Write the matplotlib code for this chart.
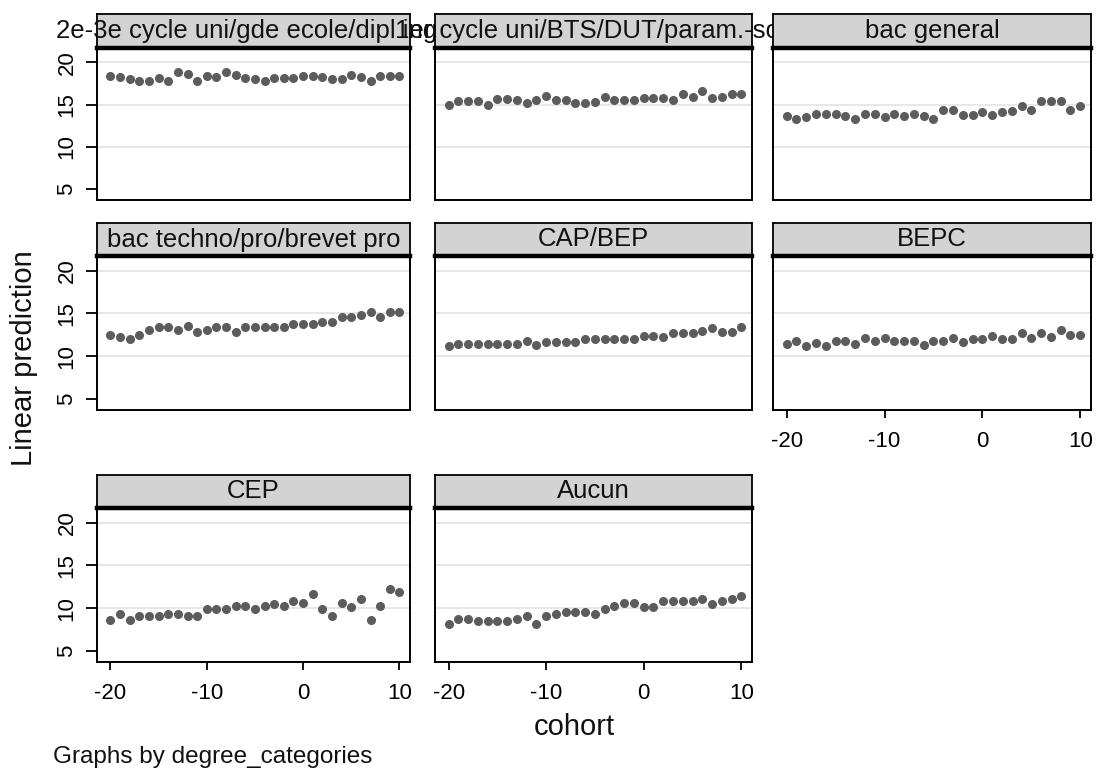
import numpy as np
import matplotlib
matplotlib.use("Agg")
import matplotlib.pyplot as plt

plt.rcParams["font.family"] = ["Liberation Sans", "DejaVu Sans"]
plt.rcParams["axes.unicode_minus"] = False

# cohort values on the x axis
cohort = np.arange(-20, 11)

titles = [
    "2e-3e cycle uni/gde ecole/dipl inge",
    "1er cycle uni/BTS/DUT/param.-soc",
    "bac general",
    "bac techno/pro/brevet pro",
    "CAP/BEP",
    "BEPC",
    "CEP",
    "Aucun",
]

# linear prediction per degree category
pred_sup = [18.4, 18.3, 18.0, 17.8, 17.85, 18.15, 17.85, 18.85, 18.6, 17.85, 18.4,
            18.25, 18.9, 18.55, 18.15, 18.05, 17.75, 18.15, 18.15, 18.15, 18.4,
            18.4, 18.3, 18.0, 18.05, 18.55, 18.25, 17.8, 18.4, 18.4, 18.4]
pred_bts = [15.0, 15.4, 15.4, 15.4, 14.9, 15.7, 15.7, 15.6, 15.2, 15.6, 16.0,
            15.6, 15.6, 15.2, 15.2, 15.3, 15.95, 15.6, 15.5, 15.5, 15.8, 15.8,
            15.8, 15.5, 16.2, 15.95, 16.65, 15.8, 15.9, 16.2, 16.2]
pred_bacgen = [13.65, 13.25, 13.55, 13.9, 13.9, 13.9, 13.6, 13.25, 13.9, 13.9,
               13.55, 13.9, 13.6, 13.9, 13.65, 13.25, 14.3, 14.3, 13.75, 13.75,
               14.1, 13.75, 14.1, 14.25, 14.8, 14.3, 15.4, 15.4, 15.4, 14.3, 14.8]
pred_bactech = [12.5, 12.2, 11.95, 12.5, 13.1, 13.4, 13.4, 13.0, 13.5, 12.8, 13.1,
                13.4, 13.4, 12.8, 13.4, 13.4, 13.4, 13.4, 13.4, 13.7, 13.7, 13.7,
                13.95, 13.95, 14.6, 14.6, 14.85, 15.15, 14.6, 15.15, 15.15]
pred_cap = [11.15, 11.45, 11.45, 11.45, 11.45, 11.45, 11.45, 11.45, 11.8, 11.25,
            11.65, 11.65, 11.65, 11.65, 12.05, 11.95, 11.95, 11.95, 11.95, 11.95,
            12.4, 12.35, 12.2, 12.65, 12.65, 12.65, 12.9, 13.3, 12.85, 12.85, 13.4]
pred_bepc = [11.45, 11.8, 11.15, 11.55, 11.15, 11.75, 11.75, 11.45, 12.15, 11.8,
             12.15, 11.8, 11.8, 11.8, 11.35, 11.8, 11.8, 12.15, 11.6, 11.95, 12.0,
             12.4, 11.95, 11.95, 12.65, 12.15, 12.65, 12.2, 13.0, 12.5, 12.5]
pred_cep = [8.65, 9.35, 8.65, 9.05, 9.05, 9.05, 9.35, 9.35, 9.05, 9.05, 9.85,
            9.85, 9.85, 10.2, 10.2, 9.85, 10.2, 10.45, 10.2, 10.85, 10.55, 11.6,
            9.85, 9.05, 10.55, 10.15, 11.05, 8.65, 10.2, 12.25, 11.85]
pred_aucun = [8.15, 8.75, 8.75, 8.45, 8.45, 8.45, 8.45, 8.75, 9.05, 8.15, 9.05,
              9.35, 9.6, 9.6, 9.6, 9.35, 9.95, 10.25, 10.55, 10.55, 10.15, 10.15,
              10.8, 10.8, 10.8, 10.8, 11.1, 10.45, 10.8, 11.1, 11.4]

series = [pred_sup, pred_bts, pred_bacgen, pred_bactech,
          pred_cap, pred_bepc, pred_cep, pred_aucun]

W, H = 1098, 774
fig = plt.figure(figsize=(W / 100, H / 100), dpi=100)


def px_rect(x0, y0, x1, y1):
    return [x0 / W, 1 - y1 / H, (x1 - x0) / W, (y1 - y0) / H]


cols = [(97, 410), (435, 752), (773, 1091)]
rows = [(14, 48, 200), (223, 256, 410), (475, 508, 662)]  # strip top, plot top, plot bottom
marker_col = "#5c5c5c"

for i, (title, vals) in enumerate(zip(titles, series)):
    r, c = divmod(i, 3)
    x0, x1 = cols[c]
    st, pt, pb = rows[r]

    ax = fig.add_axes(px_rect(x0, pt, x1, pb))
    for yg in [10, 15, 20]:
        ax.axhline(yg, color="#e3e3e3", lw=1.2, zorder=0)
    ax.plot(cohort, vals, "o", color=marker_col, ms=5.5, mec=marker_col, zorder=3)
    ax.set_xlim(-21.4, 11.1)
    ax.set_ylim(3.7, 21.7)
    for sp in ax.spines.values():
        sp.set_linewidth(1.4)
        sp.set_color("black")

    if c == 0:
        ax.set_yticks([5, 10, 15, 20])
        ax.set_yticklabels(["5", "10", "15", "20"], rotation=90, va="center")
        ax.tick_params(axis="y", length=8, width=1.3, labelsize=16, pad=6)
    else:
        ax.set_yticks([])
    if i in (5, 6, 7):
        ax.set_xticks([-20, -10, 0, 10])
        ax.tick_params(axis="x", length=6, width=1.3, labelsize=16, pad=9)
    else:
        ax.set_xticks([])

    # title strip
    axs = fig.add_axes(px_rect(x0, st, x1, pt))
    axs.set_facecolor("#d3d3d3")
    axs.set_xticks([])
    axs.set_yticks([])
    for sp in axs.spines.values():
        sp.set_linewidth(1.3)
        sp.set_color("black")
    axs.spines["bottom"].set_linewidth(3.2)
    axs.text(0.5, 0.5, title, ha="center", va="center", fontsize=18.5,
             color="#111111", transform=axs.transAxes, clip_on=False)

fig.text(24 / W, 1 - 358 / H, "Linear prediction", rotation=90,
         ha="center", va="center", fontsize=21, color="#111111")
fig.text(574 / W, 1 - 727 / H, "cohort", ha="center", va="center",
         fontsize=21, color="#111111")
fig.text(53 / W, 1 - 757 / H, "Graphs by degree_categories", ha="left",
         va="center", fontsize=17.5, color="#111111")

fig.savefig("out.png", dpi=100, facecolor="white")
